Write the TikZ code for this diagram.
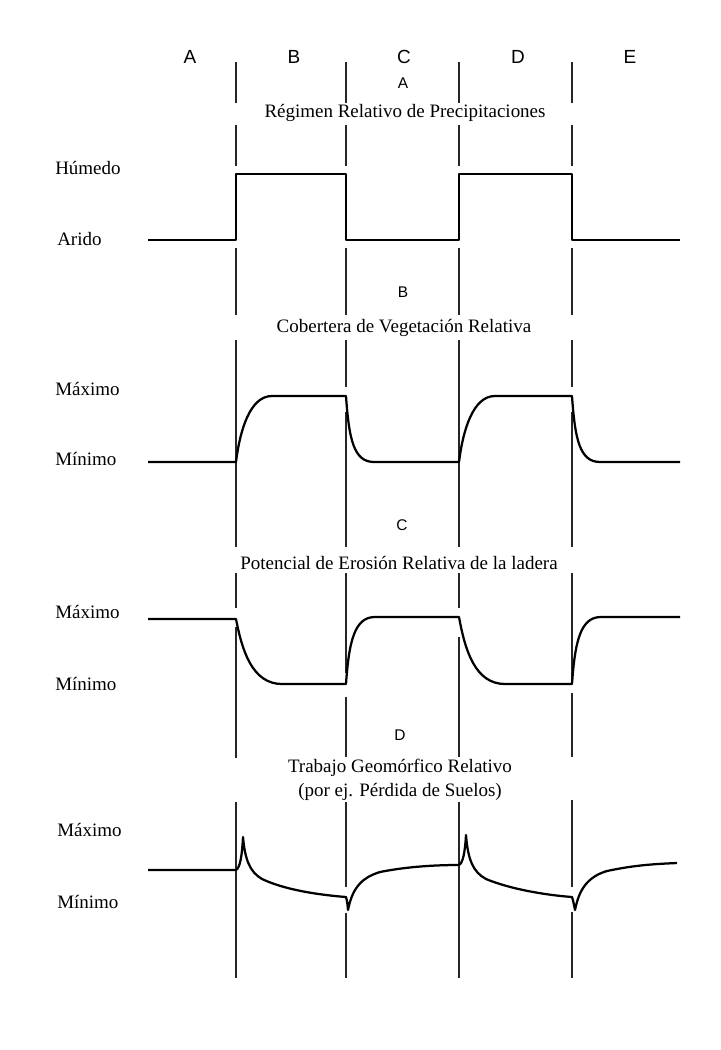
\documentclass[tikz,border=0pt]{standalone}
\usepackage{fontspec}
\setmainfont{Liberation Serif}
\setsansfont{Liberation Sans}

\begin{document}
\begin{tikzpicture}[x=0.025cm,y=-0.025cm,line join=round,
                    font=\fontsize{13.5}{17}\selectfont]
  \tikzstyle{guia}=[line width=1.05pt,black!85]
  \tikzstyle{curva}=[line width=1.6pt]
  \tikzstyle{eje}=[anchor=west,inner sep=0pt]
  \tikzstyle{titulo}=[align=center,inner sep=0pt]
  \tikzstyle{letra}=[font=\sffamily\fontsize{13.5}{15}\selectfont,inner sep=0pt]
  \tikzstyle{sub}=[font=\sffamily\fontsize{11}{13}\selectfont,inner sep=0pt]

  \useasboundingbox (0,0) rectangle (721,1050);

  % columnas
  \node[letra] (colA) at (190,57) {A};
  \node[letra] (colB) at (294,57) {B};
  \node[letra] (colC) at (404,57) {C};
  \node[letra] (colD) at (518,57) {D};
  \node[letra] (colE) at (630,57) {E};

  % titulos
  \node[sub]    (letA) at (403,83)  {A};
  \node[titulo] (titA) at (405,113) {Régimen Relativo de Precipitaciones};
  \node[sub]    (letB) at (403,292) {B};
  \node[titulo] (titB) at (404,328) {Cobertera de Vegetación Relativa};
  \node[sub]    (letC) at (402,525) {C};
  \node[titulo] (titC) at (399,563) {Potencial de Erosión Relativa de la ladera};
  \node[sub]    (letD) at (400,735) {D};
  \node[titulo] (titD) at (400,780) {Trabajo Geomórfico Relativo\\(por ej. Pérdida de Suelos)};

  % ejes
  \node[eje] (humedo) at (55,168) {Húmedo};
  \node[eje] (arido)  at (57,239) {Arido};
  \node[eje] (maxB)   at (55,389) {Máximo};
  \node[eje] (minB)   at (55,459) {Mínimo};
  \node[eje] (maxC)   at (55,612) {Máximo};
  \node[eje] (minC)   at (55,684) {Mínimo};
  \node[eje] (maxD)   at (57,830) {Máximo};
  \node[eje] (minD)   at (57,902) {Mínimo};

  % lineas verticales
  \foreach \a/\b in {62/103,125/166,248/315,573/608}
    \foreach \x in {236,346,459,572}
      \draw[guia] (\x,\a) -- (\x,\b);
  \draw[guia] (236,340) -- (236,547) (236,627) -- (236,758) (236,802) -- (236,978);
  \draw[guia] (346,340) -- (346,387) (346,412) -- (346,547) (346,608) -- (346,673)
              (346,697) -- (346,757) (346,802) -- (346,887) (346,913) -- (346,978);
  \draw[guia] (459,340) -- (459,547) (459,637) -- (459,757) (459,802) -- (459,978);
  \draw[guia] (572,340) -- (572,387) (572,412) -- (572,547) (572,608) -- (572,680)
              (572,693) -- (572,757) (572,800) -- (572,887) (572,912) -- (572,978);

  % A
  \draw[curva] (148,240) -- (236,240) -- (236,174) -- (346,174) -- (346,240)
               -- (459,240) -- (459,174) -- (572,174) -- (572,240) -- (680,240);

  % B
  \draw[curva] (148,462) -- (236,462) .. controls (240,430) and (250,396) .. (272,396)
               -- (346,396) .. controls (349,440) and (354,462) .. (374,462)
               -- (459,462) .. controls (463,430) and (473,396) .. (495,396)
               -- (572,396) .. controls (575,440) and (580,462) .. (600,462)
               -- (680,462);

  % C
  \draw[curva] (148,619) -- (236,619) .. controls (242,650) and (252,684) .. (282,684)
               -- (346,684) .. controls (349,640) and (355,617) .. (375,617)
               -- (459,617) .. controls (465,650) and (475,684) .. (505,684)
               -- (572,684) .. controls (575,640) and (581,617) .. (601,617)
               -- (680,617);

  % D
  \draw[curva] (148,870) -- (236,870) .. controls (240,868) and (242,856) .. (243,837)
               .. controls (245,860) and (250,872) .. (262,879)
               .. controls (285,890) and (320,895) .. (346,897)
               .. controls (347,900) .. (348,910)
               .. controls (352,890) and (360,878) .. (380,872)
               .. controls (410,866) and (440,865) .. (459,865)
               .. controls (463,863) and (465,852) .. (466,835)
               .. controls (468,860) and (473,872) .. (486,879)
               .. controls (510,889) and (545,895) .. (572,897)
               .. controls (573,900) .. (575,910)
               .. controls (579,890) and (587,877) .. (607,871)
               .. controls (635,865) and (655,864) .. (677,863);
\end{tikzpicture}
\end{document}
